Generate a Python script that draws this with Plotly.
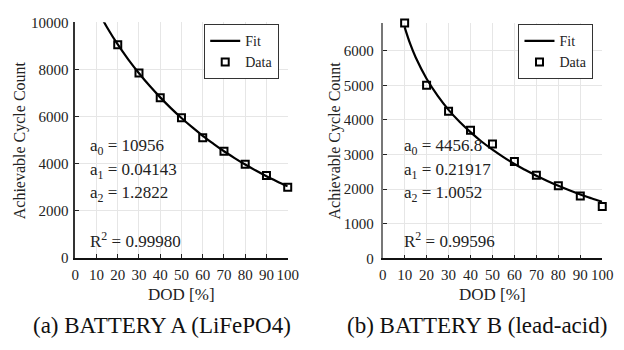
import plotly.graph_objects as go

# ---- data ----
dod_data = [20, 30, 40, 50, 60, 70, 80, 90, 100]
cycles_a = [9050, 7850, 6800, 5950, 5100, 4530, 3980, 3500, 3000]

dod_data_b = [10, 20, 30, 40, 50, 60, 70, 80, 90, 100]
cycles_b = [6800, 5000, 4250, 3700, 3300, 2800, 2400, 2100, 1800, 1500]

# fit curves
dod_fit_a = [10, 15, 20, 25, 30, 35, 40, 45, 50, 55, 60, 65, 70, 75, 80, 85, 90, 95, 100]
fit_a = [10600, 9780, 9060, 8420, 7840, 7305, 6815, 6360, 5940, 5550, 5185, 4850, 4530,
         4240, 3965, 3710, 3470, 3250, 3040]

dod_fit_b = [10, 12.5, 15, 20, 25, 30, 35, 40, 45, 50, 55, 60, 65, 70, 75, 80, 85, 90, 95, 100]
fit_b = [6680, 6200, 5810, 5190, 4700, 4290, 3945, 3645, 3375, 3140, 2925, 2725, 2550,
         2385, 2235, 2095, 1965, 1845, 1735, 1630]

text_a = ["a<sub>0</sub> = 10956", "a<sub>1</sub> = 0.04143", "a<sub>2</sub> = 1.2822",
          "R<sup>2</sup> = 0.99980"]
text_b = ["a<sub>0</sub> = 4456.8", "a<sub>1</sub> = 0.21917", "a<sub>2</sub> = 1.0052",
          "R<sup>2</sup> = 0.99596"]
captions = ["(a) BATTERY A (LiFePO4)", "(b) BATTERY B (lead-acid)"]

W, H = 624, 350
FONT = "Liberation Serif"

def px(x):
    return x / W

def py(y):
    return 1 - y / H

fig = go.Figure()

fig.add_trace(go.Scatter(x=dod_fit_a, y=fit_a, mode="lines", line=dict(color="black", width=2.2, shape="spline"),
                         name="Fit", xaxis="x", yaxis="y", legend="legend"))
fig.add_trace(go.Scatter(x=dod_data, y=cycles_a, mode="markers",
                         marker=dict(symbol="square-open", size=7, color="black", line=dict(width=2)),
                         name="Data", xaxis="x", yaxis="y", legend="legend", cliponaxis=False))
fig.add_trace(go.Scatter(x=dod_fit_b, y=fit_b, mode="lines", line=dict(color="black", width=2.2, shape="spline"),
                         name="Fit", xaxis="x2", yaxis="y2", legend="legend2"))
fig.add_trace(go.Scatter(x=dod_data_b, y=cycles_b, mode="markers",
                         marker=dict(symbol="square-open", size=7, color="black", line=dict(width=2)),
                         name="Data", xaxis="x2", yaxis="y2", legend="legend2", cliponaxis=False))

axis_common = dict(showgrid=True, gridcolor="#e6e6e6", gridwidth=1, ticks="inside", ticklen=4,
                   tickcolor="#222", showline=True, zeroline=False, tickformat="d",
                   tickangle=0, tickfont=dict(family=FONT, size=15, color="#222"))

fig.update_layout(
    width=W, height=H, margin=dict(l=0, r=0, t=0, b=0),
    paper_bgcolor="white", plot_bgcolor="white",
    font=dict(family=FONT, color="#222"),
    xaxis=dict(domain=[px(73), px(290.7)], range=[0, 100], dtick=10, anchor="y",
               linecolor="#111", linewidth=1.5, ticklabelstandoff=2, **axis_common),
    yaxis=dict(domain=[py(262), py(15)], range=[0, 10000], dtick=2000, anchor="x",
               linecolor="#333", linewidth=1.5, ticklabelstandoff=2, **axis_common),
    xaxis2=dict(domain=[px(388), px(613)], range=[0, 100], dtick=10, anchor="y2",
                linecolor="#111", linewidth=1.5, ticklabelstandoff=2, **axis_common),
    yaxis2=dict(domain=[py(262.3), py(15.7)], range=[0, 6800], dtick=1000, anchor="x2",
                linecolor="#777", linewidth=2, ticklabelstandoff=4, **axis_common),
    legend=dict(x=px(282), xanchor="right", y=py(17), yanchor="top", bgcolor="white",
                bordercolor="#333", borderwidth=1, font=dict(family=FONT, size=14),
                tracegroupgap=0, itemwidth=30),
    legend2=dict(x=px(604), xanchor="right", y=py(17), yanchor="top", bgcolor="white",
                 bordercolor="#333", borderwidth=1, font=dict(family=FONT, size=14),
                 tracegroupgap=0, itemwidth=30),
)

anns = []
ys = [146, 171, 195, 243]
for t, yy in zip(text_a, ys):
    anns.append(dict(text=t, x=px(86), y=py(yy), xref="paper", yref="paper", xanchor="left",
                     yanchor="middle", showarrow=False, font=dict(family=FONT, size=17, color="#222")))
for t, yy in zip(text_b, ys):
    anns.append(dict(text=t, x=px(408), y=py(yy), xref="paper", yref="paper", xanchor="left",
                     yanchor="middle", showarrow=False, font=dict(family=FONT, size=17, color="#222")))
# axis titles
for cx in [16, 339]:
    anns.append(dict(text="Achievable Cycle Count", x=px(cx), y=py(139), xref="paper", yref="paper",
                     xanchor="center", yanchor="middle",
                     textangle=-90, showarrow=False, font=dict(family=FONT, size=16, color="#222")))
for cx in [182, 500.5]:
    anns.append(dict(text="DOD [%]", x=px(cx), y=py(300), xref="paper", yref="paper",
                     xanchor="center", yanchor="middle",
                     showarrow=False, font=dict(family=FONT, size=17, color="#222")))
for cx, cap in zip([162, 485], captions):
    anns.append(dict(text=cap, x=px(cx), y=py(333), xref="paper", yref="paper",
                     xanchor="center", yanchor="middle",
                     showarrow=False, font=dict(family=FONT, size=23, color="#111")))
fig.update_layout(annotations=anns)

fig.write_html("out.html")
